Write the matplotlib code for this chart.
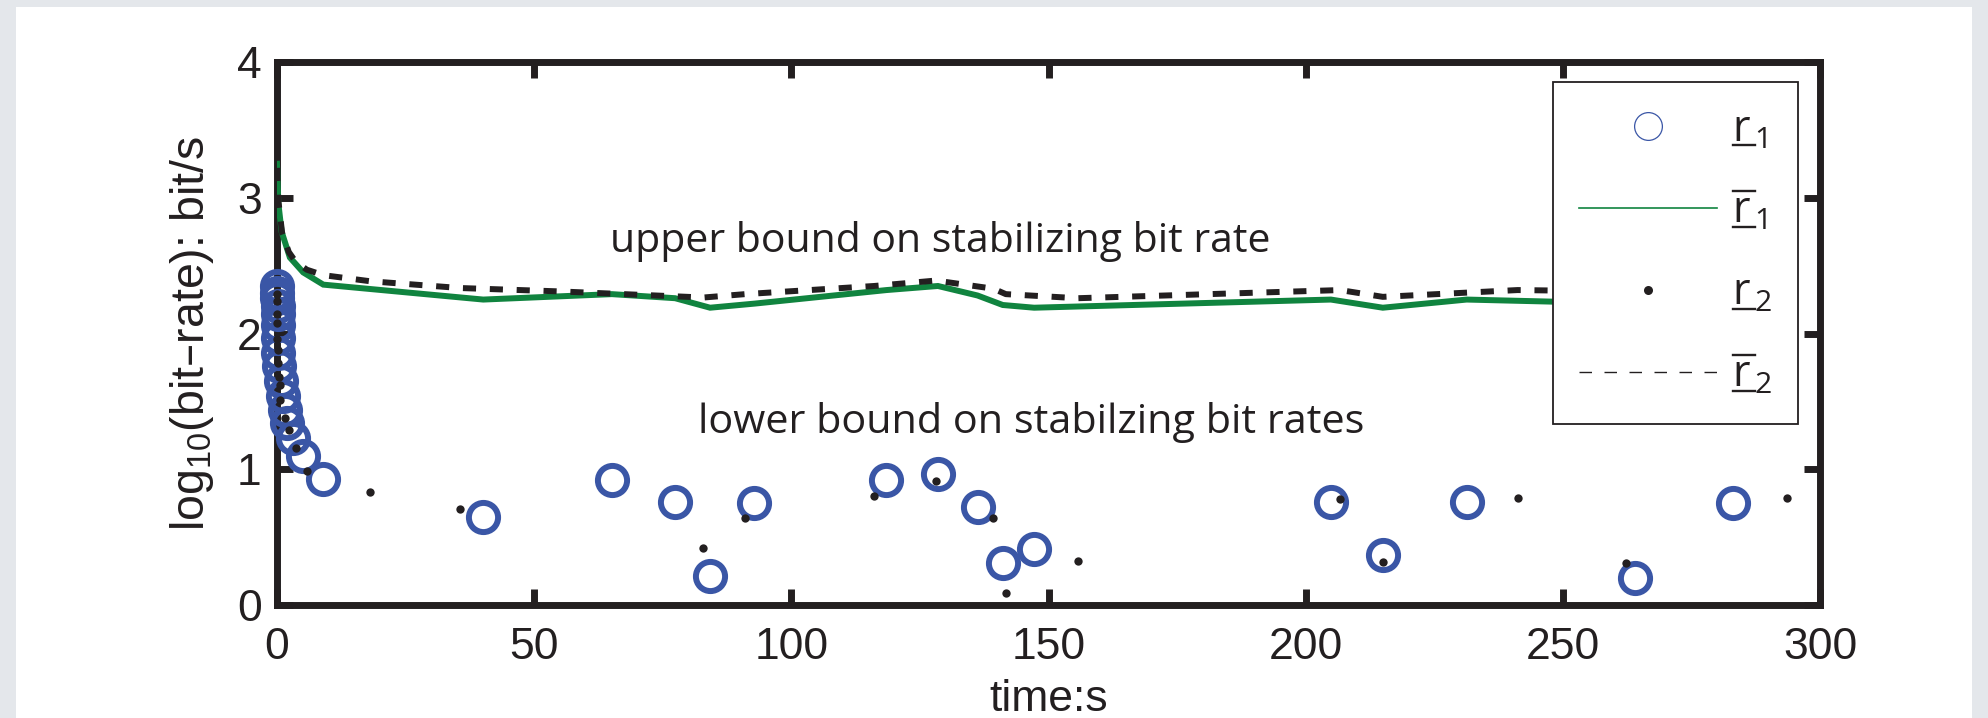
import matplotlib
matplotlib.use('Agg')
import matplotlib.pyplot as plt
from matplotlib.lines import Line2D
from matplotlib.patches import Rectangle
from matplotlib.transforms import IdentityTransform
from matplotlib.font_manager import FontProperties

plt.rcParams['font.family'] = ['Liberation Sans', 'DejaVu Sans']
plt.rcParams['mathtext.default'] = 'regular'

# r1 : lower bound samples (blue circles)
r1_t = [0.0, 0.05, 0.05, 0.1, 0.1, 0.15, 0.2, 0.26, 0.4, 0.7, 1.2, 1.6, 1.9, 3.2, 5.1, 9.0,
        40.1, 65.1, 77.4, 84.2, 92.8, 118.5, 128.5, 136.2, 141.1, 147.2,
        204.9, 215.0, 231.3, 264.0, 283.0]
r1_v = [2.35, 2.30, 2.26, 2.20, 2.14, 2.06, 1.97, 1.86, 1.76, 1.65, 1.54, 1.44, 1.34, 1.23, 1.10, 0.93,
        0.645, 0.92, 0.76, 0.21, 0.75, 0.92, 0.965, 0.725, 0.31, 0.41,
        0.76, 0.37, 0.76, 0.20, 0.75]

# r1 bar : upper bound (green line)
r1bar_t = [0.0, 0.26, 0.9, 2.5, 5.1, 9.0, 40.1, 65.1, 77.4, 84.2, 92.8, 118.5, 128.5,
           136.2, 141.1, 147.2, 204.9, 215.0, 231.3, 264.0, 283.0]
r1bar_v = [3.25, 2.96, 2.75, 2.56, 2.45, 2.36, 2.25, 2.29, 2.26, 2.19, 2.22, 2.32, 2.35,
           2.28, 2.21, 2.19, 2.25, 2.19, 2.25, 2.22, 2.24]

# r2 : lower bound samples (black dots)
r2_t = [0.0, 0.0, 0.0, 0.0, 0.0, 0.1, 0.26, 0.39, 0.58, 0.6, 1.56, 2.33, 3.6, 5.8,
        18.1, 35.6, 82.9, 91.0, 116.1, 128.1, 139.3, 141.7, 155.7,
        206.7, 215.0, 241.2, 262.3, 293.5]
r2_v = [2.29, 2.24, 2.14, 2.08, 1.96, 1.875, 1.78, 1.68, 1.62, 1.51, 1.38, 1.29, 1.16, 0.99,
        0.83, 0.71, 0.42, 0.64, 0.80, 0.91, 0.64, 0.09, 0.325,
        0.78, 0.315, 0.79, 0.31, 0.79]

# r2 bar : upper bound (black dashed line)
r2bar_t = [0.0, 0.26, 1.0, 2.3, 3.6, 5.8, 9.0, 18.1, 35.6, 55.0, 82.9, 91.0, 116.1, 128.1,
           139.3, 141.7, 155.7, 206.7, 215.0, 241.2, 262.3, 293.5]
r2bar_v = [3.22, 2.98, 2.74, 2.6, 2.53, 2.47, 2.43, 2.385, 2.335, 2.31, 2.265, 2.29, 2.35, 2.39,
           2.33, 2.29, 2.26, 2.32, 2.27, 2.32, 2.31, 2.31]

x_ticks = [0, 50, 100, 150, 200, 250, 300]
y_ticks = [0, 1, 2, 3, 4]
legend_labels = [r'$r_{\,1}$', r'$r_{\,1}$', r'$r_{\,2}$', r'$r_{\,2}$']
legend_bar = [False, True, False, True]

black = '#231f20'
blue = '#3a56a6'
green = '#10843f'

W, H = 1988, 718
fig = plt.figure(figsize=(W / 100, H / 100), dpi=100)
fig.patch.set_facecolor('#e4e7eb')
fig.add_artist(Rectangle((16 / W, 0), (W - 32) / W, (H - 7) / H, transform=fig.transFigure,
                         facecolor='white', edgecolor='none', zorder=-10))

ax = fig.add_axes([277 / W, 113 / H, 1543 / W, 543 / H])

ax.plot(r1bar_t, r1bar_v, color=green, lw=4.3, zorder=3, solid_joinstyle='miter')
ax.plot(r2bar_t, r2bar_v, color=black, lw=4.3, dashes=(2.2, 2.3), zorder=3.1)
ax.plot(r1_t, r1_v, ls='none', marker='o', ms=21, mfc='none', mec=blue, mew=4.3,
        zorder=4, clip_on=False)
ax.plot(r2_t, r2_v, ls='none', marker='o', ms=6, mfc=black, mec=black, mew=0,
        zorder=4.5, clip_on=False)

ax.text(64.8, 2.60, 'upper bound on stabilizing bit rate', fontfamily='Open Sans',
        fontsize=29.5, color=black, va='baseline')
ax.text(81.9, 1.267, 'lower bound on stabilzing bit rates', fontfamily='Open Sans',
        fontsize=29.8, color=black, va='baseline')

ax.set_xlim(0, 300)
ax.set_ylim(0, 4)
ax.set_xticks(x_ticks)
ax.set_yticks(y_ticks)
ax.tick_params(direction='in', length=11.5, width=5, color=black, labelsize=32,
               labelcolor=black, top=True, right=True)
ax.tick_params(axis='x', pad=16)
ax.tick_params(axis='y', pad=11)
for s in ax.spines.values():
    s.set_linewidth(5)
    s.set_color(black)

ax.set_xlabel('time:s', fontsize=32, color=black, labelpad=8)
ax.set_ylabel(r'$log_{10}$(bit–rate): bit/s', fontsize=33.5, color=black, labelpad=15)

handles = [
    Line2D([], [], ls='none', marker='o', ms=20, mfc='none', mec=blue, mew=0.9),
    Line2D([], [], color=green, lw=1.2),
    Line2D([], [], ls='none', marker='o', ms=6.5, mfc=black, mec=black, mew=0),
    Line2D([], [], color=black, lw=1.0, dashes=(9, 9)),
]
leg_size = 31
leg_font = FontProperties(family='Open Sans', size=leg_size)
leg = ax.legend(handles, legend_labels, loc='upper left',
                bbox_to_anchor=(1553 / W, 1 - 82 / H), bbox_transform=fig.transFigure,
                prop=leg_font, fancybox=False, framealpha=1, edgecolor=black,
                handlelength=3.2, handletextpad=0.35, labelspacing=0.87,
                borderpad=0.6, borderaxespad=0)
leg.get_frame().set_linewidth(1.3)
for t in leg.get_texts():
    t.set_color(black)

# underline / overline on the legend symbols
fig.canvas.draw()
rend = fig.canvas.get_renderer()
fs_px = leg_size * 100 / 72
_, _, lp_d = rend.get_text_width_height_descent('lp', leg_font, ismath=False)
for t, bar in zip(leg.get_texts(), legend_bar):
    bb = t.get_window_extent(rend)
    _, _, d = rend.get_text_width_height_descent(t.get_text(), leg_font, ismath=True)
    base = bb.y0 + max(d, lp_d)
    x0, x1 = bb.x0 + 1, bb.x0 + 0.55 * fs_px
    ys = [base - 0.09 * fs_px]
    if bar:
        ys.append(base + 0.74 * fs_px)
    for y in ys:
        fig.add_artist(Line2D([x0, x1], [y, y], color=black, lw=1.7,
                              transform=IdentityTransform(), zorder=10))

fig.savefig('out.png', dpi=100)
